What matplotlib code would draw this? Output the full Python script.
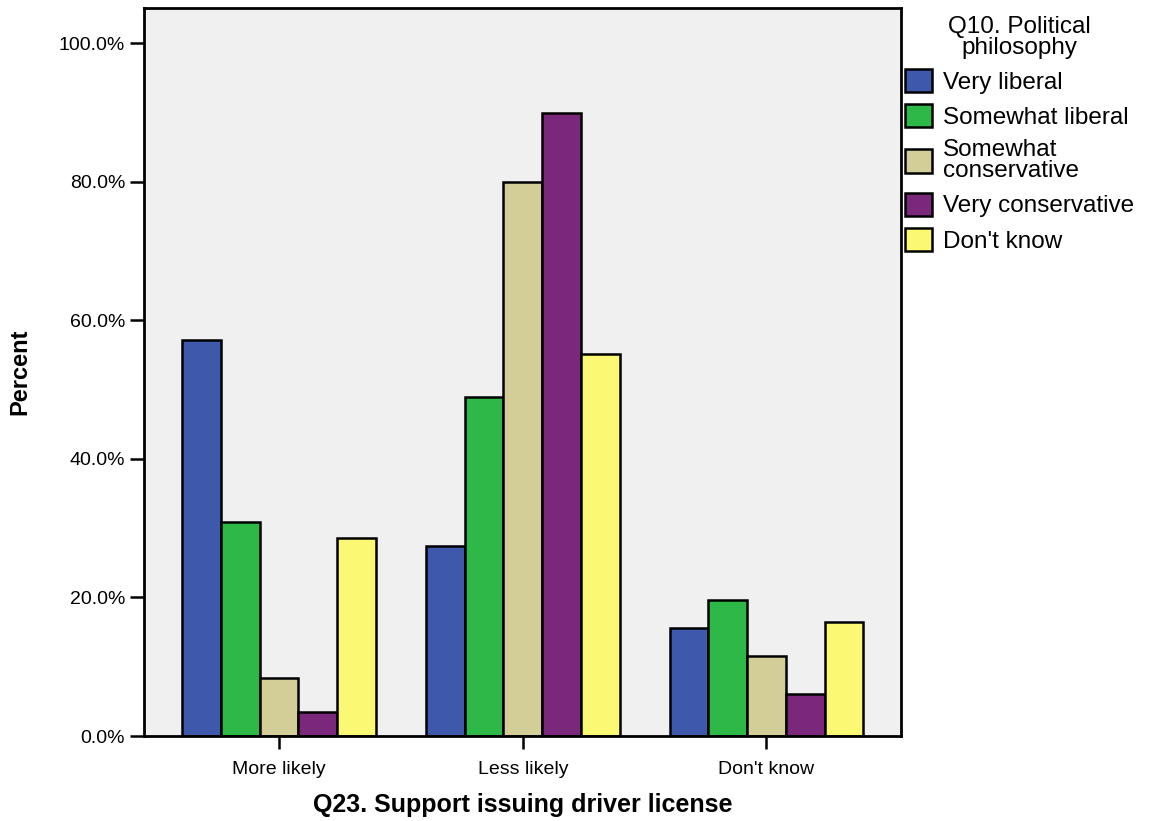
import matplotlib
matplotlib.use('Agg')
import matplotlib.pyplot as plt
import numpy as np

plt.rcParams['font.family'] = ['Liberation Sans', 'DejaVu Sans']

# data (percent within each political philosophy group)
groups = ['More likely', 'Less likely', "Don't know"]
series = ['Very liberal', 'Somewhat liberal', 'Somewhat\nconservative',
          'Very conservative', "Don't know"]
very_liberal = [57.1, 27.4, 15.6]
somewhat_liberal = [30.9, 49.0, 19.7]
somewhat_conservative = [8.4, 80.0, 11.5]
very_conservative = [3.5, 90.0, 6.1]
dont_know = [28.6, 55.1, 16.5]
values = [very_liberal, somewhat_liberal, somewhat_conservative,
          very_conservative, dont_know]
colors = ['#3e58ac', '#2eb848', '#d3ce97', '#7b287c', '#fbf873']

fig = plt.figure(figsize=(11.54, 8.21), dpi=100)
ax = fig.add_axes([0.1252, 0.1035, 0.6556, 0.8868])
ax.set_facecolor('#f0f0f0')

x = np.arange(len(groups))
w = 0.159
for i in range(len(series)):
    ax.bar(x + (i - 2) * w, values[i], w, color=colors[i], edgecolor='black',
           linewidth=1.8, label=series[i], zorder=2)

ax.set_xlim(-0.552, 2.552)
ax.set_ylim(0, 105.1)
ax.set_yticks([0, 20, 40, 60, 80, 100])
ax.set_yticklabels(['%.1f%%' % v for v in [0, 20, 40, 60, 80, 100]])
ax.set_xticks(x)
ax.set_xticklabels(groups)
ax.tick_params(axis='y', length=10, width=1.8, labelsize=14, pad=4)
ax.tick_params(axis='x', length=9, width=1.8, labelsize=14, pad=9)
for s in ax.spines.values():
    s.set_linewidth(2.0)

ax.set_xlabel('Q23. Support issuing driver license', fontsize=18,
              fontweight='bold', labelpad=11)
ax.set_ylabel('Percent', fontsize=17, fontweight='bold', labelpad=20)

leg = fig.legend(loc='upper left', bbox_to_anchor=(0.780, 0.987),
                 frameon=False, fontsize=17.5,
                 title='Q10. Political\nphilosophy', title_fontsize=17.5,
                 handlelength=1.1, handleheight=1.1, handletextpad=0.45,
                 labelspacing=0.42, borderaxespad=0, borderpad=0.2)
leg._legend_box.align = 'center'
for t in leg.get_texts():
    t.set_linespacing(0.95)
leg.get_title().set_linespacing(0.95)
leg.get_title().set_multialignment('center')

fig.savefig('out.png', dpi=100)
